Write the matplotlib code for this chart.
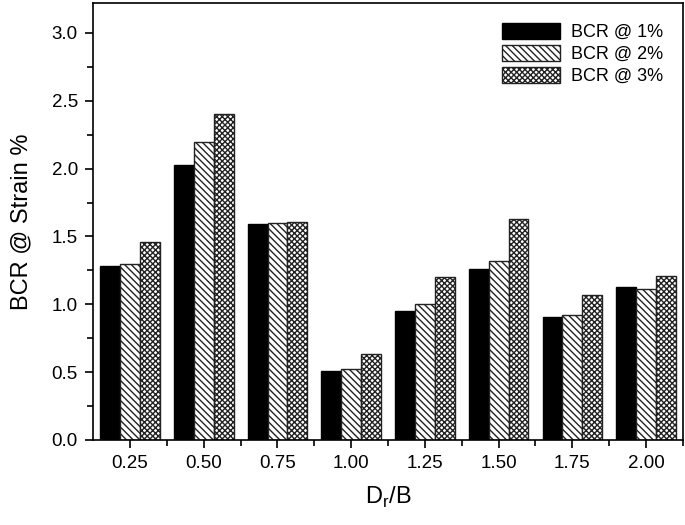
import numpy as np
import matplotlib.pyplot as plt
from matplotlib.ticker import MultipleLocator

plt.rcParams['font.family'] = ['Liberation Sans', 'DejaVu Sans']
plt.rcParams['hatch.linewidth'] = 1.0

# data
ratios = ["0.25", "0.50", "0.75", "1.00", "1.25", "1.50", "1.75", "2.00"]
bcr_1 = [1.28, 2.03, 1.59, 0.51, 0.95, 1.26, 0.91, 1.13]
bcr_2 = [1.30, 2.20, 1.60, 0.52, 1.00, 1.32, 0.92, 1.11]
bcr_3 = [1.46, 2.40, 1.61, 0.63, 1.20, 1.63, 1.07, 1.21]
series_labels = ["BCR @ 1%", "BCR @ 2%", "BCR @ 3%"]

fig = plt.figure(figsize=(6.85, 5.25), dpi=100)
ax = fig.add_axes([0.136, 0.162, 0.861, 0.832])

x = np.arange(len(ratios))
w = 0.27
ax.bar(x - w, bcr_1, w, color='black', edgecolor='black', linewidth=1, label=series_labels[0])
ax.bar(x, bcr_2, w, color='white', edgecolor='#222222', hatch='\\\\\\\\\\', linewidth=1, label=series_labels[1])
ax.bar(x + w, bcr_3, w, color='white', edgecolor='#222222', hatch='xxxxxx', linewidth=1, label=series_labels[2])

ax.set_xlim(-0.5, len(ratios) - 0.5)
ax.set_ylim(0, 3.22)
ax.set_xticks(x)
ax.set_xticklabels(ratios)
ax.set_xticks(x + 0.5, minor=True)
ax.yaxis.set_major_locator(MultipleLocator(0.5))
ax.yaxis.set_minor_locator(MultipleLocator(0.25))
ax.yaxis.set_major_formatter(plt.FuncFormatter(lambda v, p: f"{v:.1f}"))

ax.tick_params(which='major', direction='out', length=6, width=1.2, labelsize=13.5, pad=5)
ax.tick_params(which='minor', direction='out', length=4, width=1.2)
for s in ax.spines.values():
    s.set_linewidth(1.2)

ax.set_xlabel(r'D$_\mathregular{r}$/B', fontsize=17, labelpad=9)
ax.set_ylabel('BCR @ Strain %', fontsize=17, labelpad=14)

ax.legend(loc='upper right', frameon=False, fontsize=13, handlelength=3.2, handleheight=1.0,
          labelspacing=0.2, borderaxespad=0.7, handletextpad=0.6)

fig.savefig('out.png', dpi=100)
